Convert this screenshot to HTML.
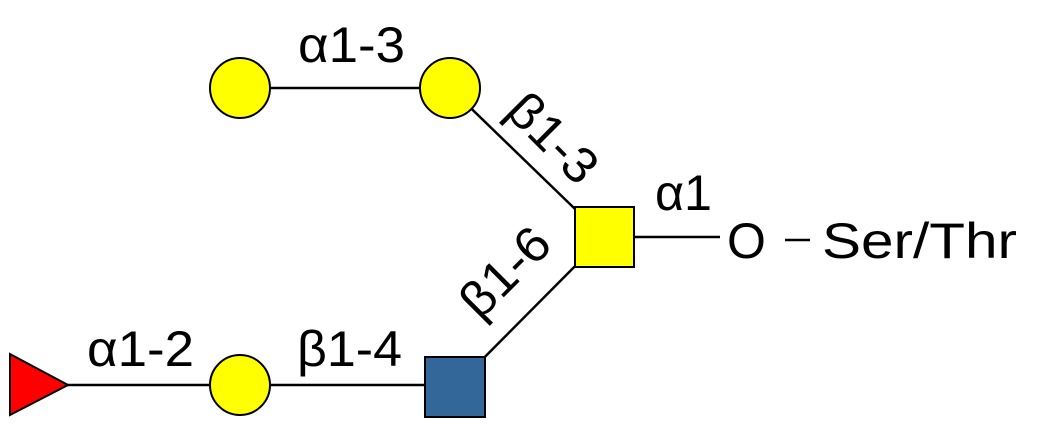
<!DOCTYPE html>
<html><head><meta charset="utf-8"><style>
html,body{margin:0;padding:0;background:#fff;}
svg{display:block;}
text{font-family:"Liberation Sans",sans-serif;font-size:50px;fill:#000;}
</style></head><body>
<svg width="1038" height="439" viewBox="0 0 1038 439" xmlns="http://www.w3.org/2000/svg">
<g stroke="#000" stroke-width="2.5" fill="none">
<line x1="240" y1="88" x2="450" y2="88"/>
<line x1="450" y1="88" x2="604" y2="237"/>
<line x1="604" y1="237" x2="720" y2="237"/>
<line x1="455" y1="387" x2="604" y2="237"/>
<line x1="40" y1="385" x2="455" y2="385"/>
<line x1="785" y1="240" x2="810" y2="240"/>
</g>
<polygon points="10,354 10,415 68,385" fill="#f00" stroke="#000" stroke-width="2"/>
<circle cx="240" cy="88" r="30" fill="#ff0" stroke="#000" stroke-width="2"/>
<circle cx="450" cy="88" r="30" fill="#ff0" stroke="#000" stroke-width="2"/>
<circle cx="240" cy="385" r="30" fill="#ff0" stroke="#000" stroke-width="2"/>
<rect x="575" y="207" width="59" height="60" fill="#ff0" stroke="#000" stroke-width="2"/>
<rect x="425" y="357" width="60" height="60" fill="#336699" stroke="#000" stroke-width="2"/>
<text x="298" y="62" textLength="107" lengthAdjust="spacingAndGlyphs">α1-3</text>
<text x="655" y="210" textLength="57" lengthAdjust="spacingAndGlyphs">α1</text>
<text x="727" y="258">O</text>
<text x="822" y="258" textLength="195" lengthAdjust="spacingAndGlyphs">Ser/Thr</text>
<text x="87" y="366" textLength="107" lengthAdjust="spacingAndGlyphs">α1-2</text>
<text x="297" y="366" textLength="105" lengthAdjust="spacingAndGlyphs">β1-4</text>
<text transform="translate(553,138) rotate(45)" text-anchor="middle" y="17" textLength="105" lengthAdjust="spacingAndGlyphs">β1-3</text>
<text transform="translate(505,272) rotate(-45)" text-anchor="middle" y="17" textLength="105" lengthAdjust="spacingAndGlyphs">β1-6</text>
</svg>
</body></html>
